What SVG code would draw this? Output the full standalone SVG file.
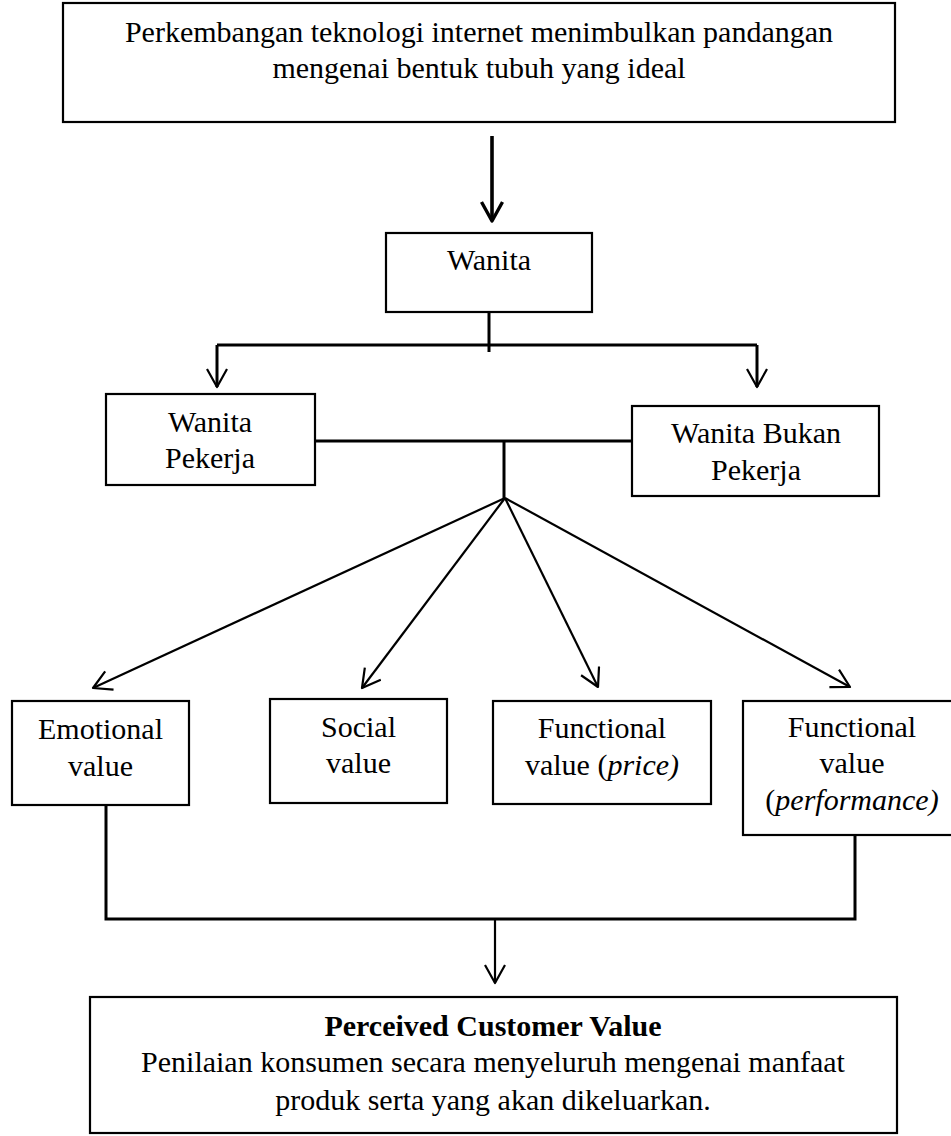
<svg xmlns="http://www.w3.org/2000/svg" width="951" height="1136" viewBox="0 0 951 1136">
<style>
.box{fill:#fff;stroke:#000;stroke-width:2.2}
.t{font-family:"Liberation Serif","Times New Roman",serif;font-size:30px;fill:#000;text-anchor:middle}
.b{font-weight:bold}
.i{font-style:italic}
.c{fill:none;stroke:#000;stroke-width:2.2}
.ct{fill:none;stroke:#000;stroke-width:3}
.ck{fill:none;stroke:#000;stroke-width:3.6}
</style>
<defs>
<marker id="ah" markerUnits="userSpaceOnUse" markerWidth="24" markerHeight="24" viewBox="-1 -1 22 24" refX="18" refY="10" orient="auto">
<path d="M0,0 L18,10 L0,20" fill="none" stroke="#000" stroke-width="2.2" stroke-linejoin="round"/>
</marker>
<marker id="ahk" markerUnits="userSpaceOnUse" markerWidth="26" markerHeight="26" viewBox="-2 -2 24 26" refX="19" refY="10.5" orient="auto">
<path d="M0,0 L19,10.5 L0,21" fill="none" stroke="#000" stroke-width="3.4" stroke-linejoin="round"/>
</marker>
</defs>
<g id="connectors">
<line class="ck" x1="492" y1="136" x2="492" y2="221" marker-end="url(#ahk)"/>
<line class="ct" x1="489" y1="312" x2="489" y2="352"/>
<line class="ct" x1="217" y1="345" x2="757" y2="345"/>
<line class="ct" x1="217" y1="345" x2="217" y2="387" marker-end="url(#ah)"/>
<line class="ct" x1="757" y1="345" x2="757" y2="387" marker-end="url(#ah)"/>
<line class="ct" x1="315" y1="441" x2="632" y2="441"/>
<line class="ct" x1="504" y1="441" x2="504" y2="498"/>
<line class="c" x1="505" y1="498" x2="93" y2="688" marker-end="url(#ah)"/>
<line class="c" x1="505" y1="498" x2="362" y2="688" marker-end="url(#ah)"/>
<line class="c" x1="505" y1="498" x2="598" y2="687" marker-end="url(#ah)"/>
<line class="c" x1="505" y1="498" x2="850" y2="687" marker-end="url(#ah)"/>
<polyline class="ct" points="106,805 106,919 855,919 855,835"/>
<line class="c" x1="495" y1="919" x2="495" y2="983" marker-end="url(#ah)"/>
</g>
<g id="n-top">
<rect class="box" x="63" y="3" width="832" height="119"/>
<text class="t" x="479" y="42">Perkembangan teknologi internet menimbulkan pandangan</text>
<text class="t" x="479" y="78">mengenai bentuk tubuh yang ideal</text>
</g>
<g id="n-wanita">
<rect class="box" x="386" y="233" width="206" height="79"/>
<text class="t" x="489" y="270">Wanita</text>
</g>
<g id="n-pekerja">
<rect class="box" x="106" y="394" width="209" height="91"/>
<text class="t" x="210" y="432">Wanita</text>
<text class="t" x="210" y="468">Pekerja</text>
</g>
<g id="n-bukan">
<rect class="box" x="632" y="406" width="247" height="90"/>
<text class="t" x="756" y="443">Wanita Bukan</text>
<text class="t" x="756" y="480">Pekerja</text>
</g>
<g id="n-emotional">
<rect class="box" x="12" y="701" width="177" height="104"/>
<text class="t" x="100.5" y="739">Emotional</text>
<text class="t" x="100.5" y="776">value</text>
</g>
<g id="n-social">
<rect class="box" x="270" y="699" width="177" height="104"/>
<text class="t" x="358.5" y="737">Social</text>
<text class="t" x="358.5" y="773">value</text>
</g>
<g id="n-price">
<rect class="box" x="493" y="701" width="218" height="103"/>
<text class="t" x="602" y="738">Functional</text>
<text class="t" x="602" y="775">value (<tspan class="i">price)</tspan></text>
</g>
<g id="n-performance">
<rect class="box" x="743" y="701" width="220" height="134"/>
<text class="t" x="852" y="737">Functional</text>
<text class="t" x="852" y="773">value</text>
<text class="t" x="852" y="810">(<tspan class="i">performance)</tspan></text>
</g>
<g id="n-pcv">
<rect class="box" x="90" y="997" width="807" height="136"/>
<text class="t b" x="493" y="1036">Perceived Customer Value</text>
<text class="t" x="493" y="1072">Penilaian konsumen secara menyeluruh mengenai manfaat</text>
<text class="t" x="493" y="1110">produk serta yang akan dikeluarkan.</text>
</g>
</svg>
